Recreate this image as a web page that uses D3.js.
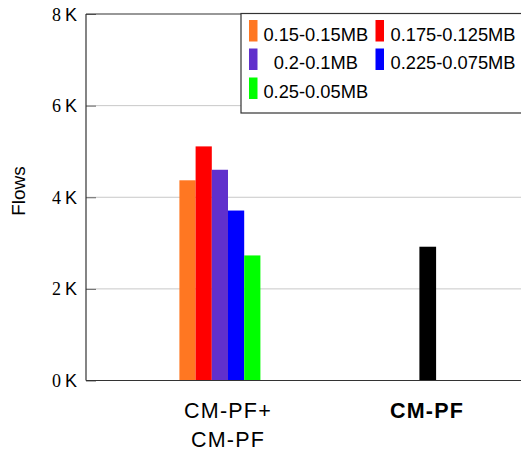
<!DOCTYPE html>
<html><head><meta charset="utf-8">
<script src="https://cdn.jsdelivr.net/npm/d3@7"></script>
<style>body{margin:0;background:#fff}svg{display:block}</style>
</head><body><svg id="c" width="521" height="452"></svg>
<script>
const categories = ["CM-PF+\nCM-PF", "CM-PF"];
const seriesNames = ["0.15-0.15MB", "0.175-0.125MB", "0.2-0.1MB", "0.225-0.075MB", "0.25-0.05MB"];
const seriesColors = ["#FF7722", "#FF0000", "#6030CC", "#0000FF", "#00FF00"];
const seriesValues = [4370, 5110, 4600, 3710, 2730];
const baselineValue = [2920];
const yTicks = [0, 2000, 4000, 6000, 8000];

const SANS = "'Liberation Sans', Arial, Helvetica, sans-serif";
const SERIF = "'Liberation Serif', 'Times New Roman', serif";
const svg = d3.select("#c");
const L = 86, R = 521, T = 14, B = 380.5;
const y = d3.scaleLinear().domain([0, 8000]).range([B, T]);
const x = d3.scalePoint().domain(categories).range([228, 427]);
const barW = 16.2;
const inner = d3.scaleBand().domain(d3.range(6)).range([-48.6, 48.6]);

// gridlines
svg.append("g").selectAll("line").data(yTicks.filter(d => d > 0 && d < 8000)).join("line")
  .attr("x1", L).attr("x2", R).attr("y1", d => y(d)).attr("y2", d => y(d))
  .attr("stroke", "#c8c8c8").attr("stroke-width", 1);

// bars group 1
svg.append("g").selectAll("rect").data(seriesValues).join("rect")
  .attr("x", (d, i) => x(categories[0]) + inner(i))
  .attr("width", inner.bandwidth())
  .attr("y", d => y(d)).attr("height", d => B - y(d))
  .attr("fill", (d, i) => seriesColors[i]);
// bar group 2
svg.append("g").selectAll("rect").data(baselineValue).join("rect")
  .attr("x", d => x(categories[1]) - barW / 2 + 0.5)
  .attr("width", barW + 0.5)
  .attr("y", d => y(d)).attr("height", d => B - y(d))
  .attr("fill", "#000");

// y axis (ticks inside)
const yAxis = d3.axisRight(y).tickValues(yTicks).tickSize(10).tickFormat(() => "");
const ga = svg.append("g").attr("transform", `translate(${L},0)`).call(yAxis);
ga.select(".domain").remove();
ga.selectAll(".tick line").attr("stroke", "#666");
const tl = svg.append("g").selectAll("text").data(yTicks).join("text")
  .attr("x", 77).attr("y", d => y(d) + 6.5).attr("text-anchor", "end")
  .style("font-size", "18px");
tl.append("tspan").style("font-family", SERIF).text(d => d / 1000);
tl.append("tspan").style("font-family", SANS).attr("dx", 4).text("K");

// frame
svg.append("line").attr("x1", L).attr("x2", L).attr("y1", T).attr("y2", B).attr("stroke", "#333").attr("stroke-width", 1.2);
svg.append("line").attr("x1", L).attr("x2", R).attr("y1", B).attr("y2", B).attr("stroke", "#333").attr("stroke-width", 1.2);
svg.append("line").attr("x1", L).attr("x2", R).attr("y1", T).attr("y2", T).attr("stroke", "#333").attr("stroke-width", 1.2);

// y label
svg.append("text").attr("transform", "translate(25,191) rotate(-90)")
  .attr("text-anchor", "middle").style("font-family", SANS)
  .style("font-size", "19px").text("Flows");

// x labels
const xl = svg.append("g").selectAll("text").data(categories).join("text")
  .attr("text-anchor", "middle").style("font-family", SANS)
  .style("font-size", "21.5px").style("letter-spacing", "1.2px")
  .style("font-weight", (d, i) => i === 1 ? "bold" : "normal");
xl.each(function(d) {
  const lines = d.split("\n");
  d3.select(this).selectAll("tspan").data(lines).join("tspan")
    .attr("x", x(d)).attr("y", (l, j) => 418 + j * 29).text(l => l);
});

// legend
const lg = svg.append("g");
lg.append("rect").attr("x", 241).attr("y", 13.5).attr("width", 300).attr("height", 99.5)
  .attr("fill", "#fff").attr("stroke", "#333").attr("stroke-width", 1.2);
const colX = [249, 375.5], colTextCenter = [315.8, 453], rowY = [20, 48.5, 77.5];
seriesNames.forEach((n, i) => {
  const c = i % 2, r = Math.floor(i / 2);
  lg.append("rect").attr("x", colX[c]).attr("y", rowY[r]).attr("width", 8.5).attr("height", 21.5)
    .attr("fill", seriesColors[i]);
  lg.append("text").attr("x", colTextCenter[c]).attr("y", rowY[r] + 20.7)
    .attr("text-anchor", "middle").style("font-family", SANS)
    .style("font-size", "18.3px").text(n);
});
</script></body></html>
